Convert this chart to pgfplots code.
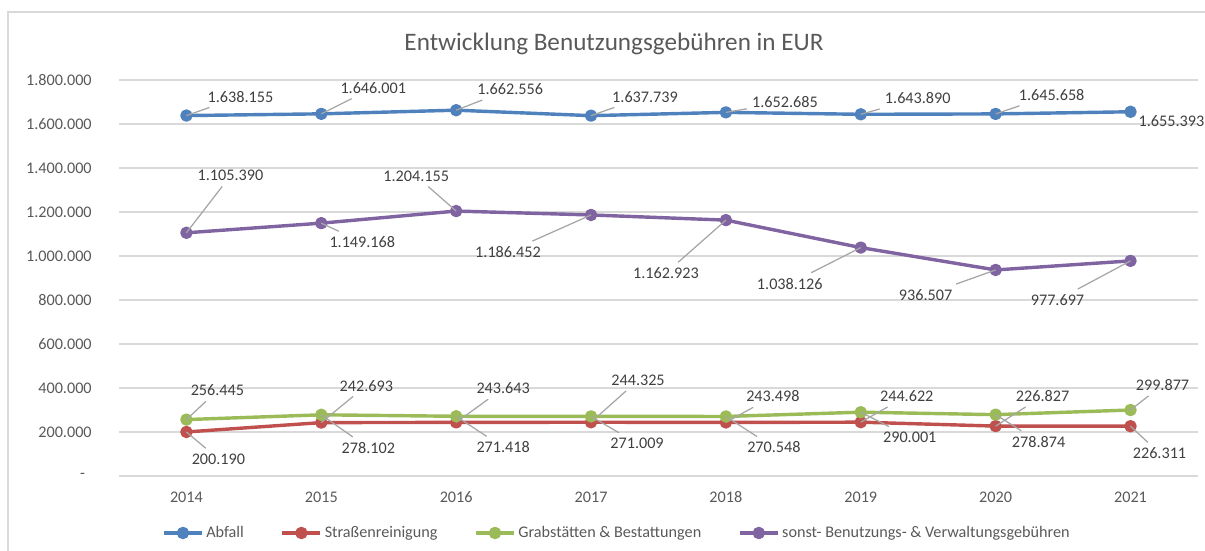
\documentclass[border=0pt]{standalone}
\usepackage{fontspec}
\setmainfont{Carlito}
\usepackage{pgfplots}
\pgfplotsset{compat=1.18}

\definecolor{abfall}{HTML}{4F81BD}
\definecolor{strasse}{HTML}{C0504D}
\definecolor{grab}{HTML}{9BBB59}
\definecolor{sonst}{HTML}{8064A2}
\definecolor{gridc}{HTML}{D9D9D9}
\definecolor{tickc}{HTML}{595959}
\definecolor{labtext}{HTML}{404040}
\definecolor{leader}{HTML}{A6A6A6}

% one pixel of the reference
\def\pxu{0.556pt}
\newcommand\labfont{\fontsize{9}{11}\selectfont}

\pgfplotsset{
  series/.style={color=#1, line width=1.9pt, line join=round, mark=*, mark size=2.5pt,
    mark options={solid, fill=#1}},
  dlab/.style={
    point meta=explicit symbolic,
    visualization depends on={value \thisrow{dx}\as\labdx},
    visualization depends on={value \thisrow{dy}\as\labdy},
    visualization depends on={value \thisrow{ld}\as\labld},
    nodes near coords={\pgfplotspointmeta},
    every node near coord/.append style={anchor=center, inner sep=2pt, font=\labfont,
      text=labtext, xshift=\labdx*\pxu, yshift=\labdy*\pxu,
      append after command={(\tikzlastnode) edge[draw=leader, line width=0.7pt,
        draw opacity=\labld] (canvas cs:x=0pt,y=0pt)}},
  },
}

\begin{document}
\begin{tikzpicture}
\useasboundingbox (0,0) rectangle (1205*\pxu,-551*\pxu);
\draw[gridc, line width=0.6pt] (8*\pxu,-551*\pxu) -- (8*\pxu,-12*\pxu) -- (1205*\pxu,-12*\pxu);
\node[font=\fontsize{14}{17}\selectfont, text=tickc] at (614*\pxu,-44*\pxu)
  {Entwicklung Benutzungsgebühren in EUR};

\begin{axis}[
  at={(119*\pxu,-476*\pxu)}, anchor=south west,
  scale only axis, width=599.9pt, height=220.2pt,
  xmin=2013.5, xmax=2021.5, ymin=0, ymax=1800000,
  xtick={2014,2015,2016,2017,2018,2019,2020,2021},
  xticklabels={2014,2015,2016,2017,2018,2019,2020,2021},
  ytick={0,200000,400000,600000,800000,1000000,1200000,1400000,1600000,1800000},
  yticklabels={{-\hspace*{3.6pt}},200.000,400.000,600.000,800.000,1.000.000,1.200.000,1.400.000,1.600.000,1.800.000},
  scaled y ticks=false,
  ymajorgrids, grid style={draw=gridc, line width=0.7pt},
  axis line style={draw=none},
  major tick length=0pt,
  tick label style={font=\labfont, text=tickc},
  yticklabel style={anchor=east, inner sep=0pt, xshift=-15pt},
  xticklabel style={anchor=center, inner sep=0pt, yshift=-11.7pt},
  clip=false,
  legend columns=4,
  legend style={at={(0.461,-0.1439)}, anchor=center, draw=none, fill=none,
    font=\labfont, text=tickc,
    /tikz/every even column/.append style={column sep=20pt},
    /tikz/every odd column/.append style={column sep=1pt},
    nodes={inner sep=0.5pt}},
  legend image code/.code={\draw[mark repeat=2,mark phase=2]
    plot coordinates {(0pt,0pt)(10.55pt,0pt)(21.1pt,0pt)};},
]

\addplot[series=abfall, dlab] table[x=x, y=y, meta=lab] {
x y lab dx dy ld
2014 1638155 1.638.155 54 19 1
2015 1646001 1.646.001 52 26 1
2016 1662556 1.662.556 54 21 1
2017 1637739 1.637.739 54 19 1
2018 1652685 1.652.685 59 10 1
2019 1643890 1.643.890 57 16 1
2020 1645658 1.645.658 56 19 1
2021 1655393 1.655.393 41 -9 0
};
\addlegendentry{Abfall}

\addplot[series=strasse, dlab] table[x=x, y=y, meta=lab] {
x y lab dx dy ld
2014 200190 200.190 32 -27 1
2015 242693 242.693 45 37 1
2016 243643 243.643 47 34 1
2017 244325 244.325 47 42 1
2018 243498 243.498 47 26 1
2019 244622 244.622 46 26 1
2020 226827 226.827 47 30 1
2021 226311 226.311 29 -27 1
};
\addlegendentry{Straßenreinigung}

\addplot[series=grab, dlab] table[x=x, y=y, meta=lab] {
x y lab dx dy ld
2014 256445 256.445 31 29 1
2015 278102 278.102 47 -33 1
2016 271418 271.418 47 -31 1
2017 271009 271.009 46 -27 1
2018 270548 270.548 48 -31 1
2019 290001 290.001 49 -25 1
2020 278874 278.874 43 -27 1
2021 299877 299.877 32 25 1
};
\addlegendentry{Grabstätten \& Bestattungen}

\addplot[series=sonst, dlab] table[x=x, y=y, meta=lab] {
x y lab dx dy ld
2014 1105390 1.105.390 44 57 1
2015 1149168 1.149.168 41 -19 1
2016 1204155 1.204.155 -40 35 1
2017 1186452 1.186.452 -83 -37 1
2018 1162923 1.162.923 -60 -53 1
2019 1038126 1.038.126 -71 -36 1
2020 936507 936.507 -70 -25 1
2021 977697 977.697 -73 -39 1
};
\addlegendentry{sonst- Benutzungs- \& Verwaltungsgebühren}

\end{axis}
\end{tikzpicture}
\end{document}
